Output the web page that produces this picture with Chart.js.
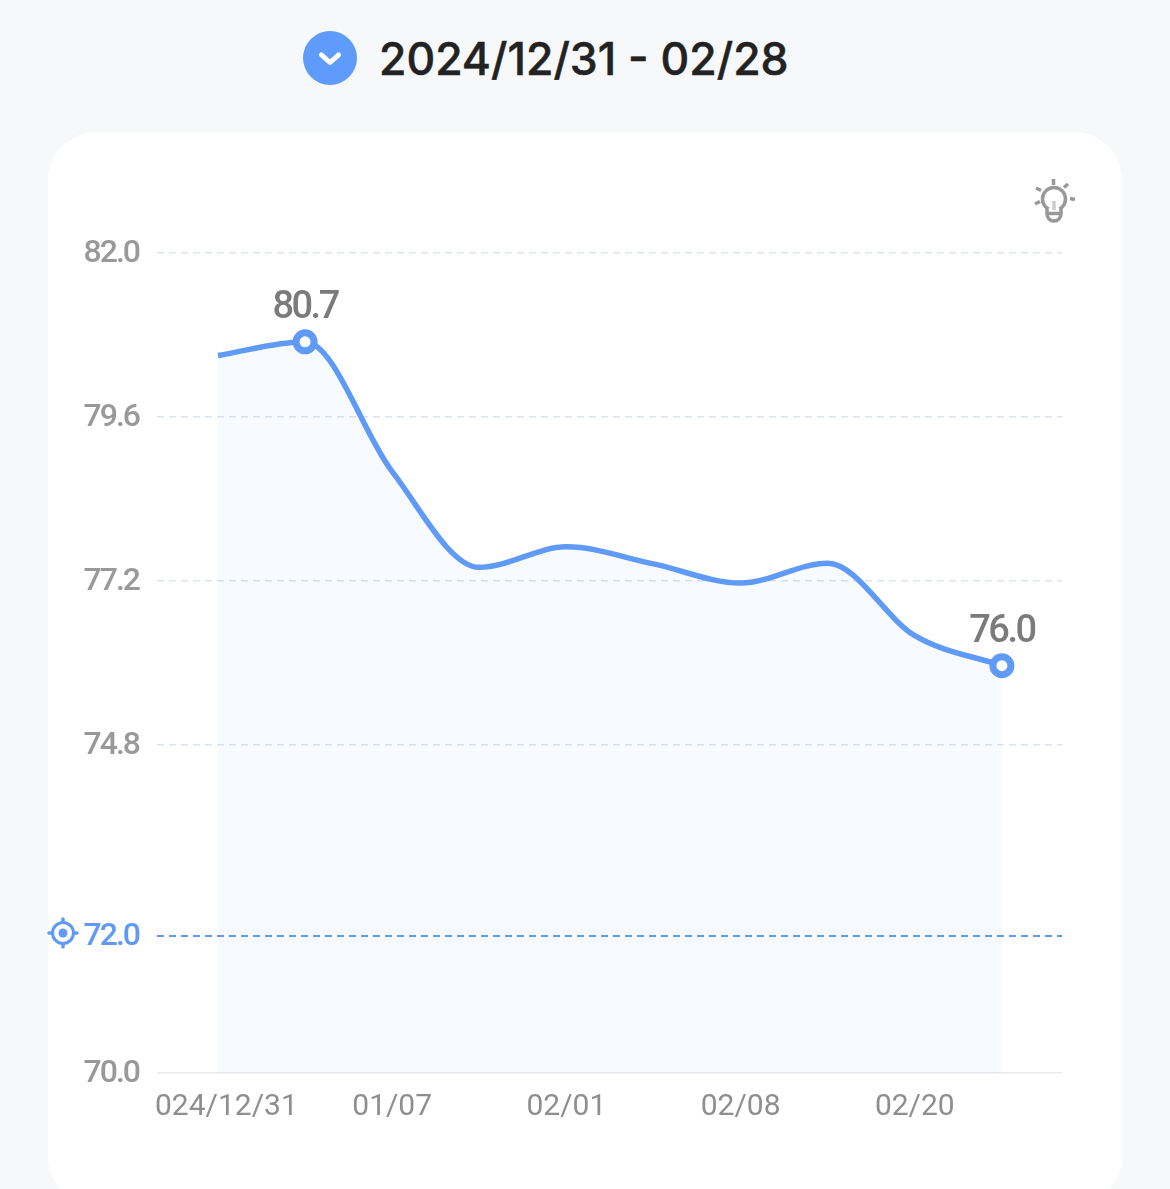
<!DOCTYPE html>
<html><head><meta charset="utf-8">
<style>
html,body{margin:0;padding:0;background:#f7f8fa;width:1170px;height:1189px;overflow:hidden;position:relative}
#card{position:absolute;left:48px;top:132px;width:1074px;height:1073px;background:#fff;border-radius:48px}
#wrap{position:absolute;left:0;top:0;width:1170px;height:1189px}
#title{position:absolute;left:379px;top:32px;font:500 44.5px/54px Inter,sans-serif;-webkit-text-stroke:.5px #222;color:#222;white-space:nowrap}
svg{position:absolute;overflow:visible}
</style></head><body>
<div id="card"></div>
<svg style="left:303px;top:31px" width="54" height="54" viewBox="0 0 54 54"><circle cx="27" cy="27" r="27" fill="#5f9bfa"/><path d="M18.5 24l8.5 7.5 8.500-7.500" fill="none" stroke="#fff" stroke-width="5" stroke-linecap="round" stroke-linejoin="round"/></svg>
<div id="title">2024/12/31 - 02/28</div>
<svg style="left:1030px;top:176px" width="48" height="48" viewBox="0 0 48 48" fill="none" stroke="#999" stroke-width="3.500">
<circle cx="24" cy="23" r="11.500"/>
<path d="M17 32v6a7 7 0 0 0 14 0v-6" fill="#fff"/><path d="M18 37.500h12"/>
<path d="M24 25v9" stroke="#ccc"/>
<path d="M23.500 3v6M38 8l-4 3.500M6 12l5 2.500M5 28l5-2.500M40 22.500l5 1"/></svg>
<svg style="left:48px;top:918px" width="30" height="30" viewBox="0 0 30 30" fill="none" stroke="#5f9bf6" stroke-width="3"><circle cx="15" cy="15" r="10.500"/><circle cx="15" cy="15" r="4.500" fill="#5f9bf6" stroke="none"/><path d="M15 1v3.500M15 25.500v3.500M1 15h3.500M25.500 15h3.500" stroke-linecap="round" stroke-width="3.500"/></svg>
<div id="wrap"><canvas id="c" width="1170" height="1189"></canvas></div>
<script src="https://cdn.jsdelivr.net/npm/chart.js@4"></script>
<script>
const pointIndex = [0,1,2,3,4,5,6,7,8,9];
const weight = [80.5,80.7,78.8,77.4,77.7,77.45,77.17,77.46,76.4,75.96];
const labelledPoints = [1,9];
const xTickPositions = [0,2,4,6,8];
const xTickLabels = ['\u2007024/12/31','01/07','02/01','02/08','02/20'];
const yTicks = [70,72,74.8,77.2,79.6,82];
const targetWeight = 72;
const BLUE = '#5f9bf6';

const pointLabels = {
  id:'pointLabels',
  afterDatasetsDraw(chart){
    const ctx = chart.ctx, meta = chart.getDatasetMeta(0);
    ctx.save();
    ctx.font = '500 38px Roboto, sans-serif';
    ctx.letterSpacing = '-2.5px';
    ctx.fillStyle = '#7b7b7b';
    ctx.textAlign = 'center';
    ctx.textBaseline = 'middle';
    labelledPoints.forEach(i=>{
      const p = meta.data[i];
      ctx.fillText(weight[i].toFixed(1), p.x, p.y-33);
    });
    ctx.restore();
  }
};

new Chart(document.getElementById('c'),{
  type:'line',
  data:{datasets:[{
    data:pointIndex.map((x,i)=>({x,y:weight[i]})),
    borderColor:BLUE,
    borderWidth:5.5,
    cubicInterpolationMode:'monotone',
    fill:'start',
    backgroundColor:'rgba(95,175,255,0.05)',
    pointRadius:c=>labelledPoints.includes(c.dataIndex)?9:0,
    pointBorderWidth:7,
    pointBorderColor:BLUE,
    pointBackgroundColor:'#fff',
    clip:false
  }]},
  options:{
    responsive:false,
    animation:false,
    devicePixelRatio:1,
    layout:{padding:{left:0,right:108,top:253,bottom:0}},
    plugins:{legend:{display:false},tooltip:{enabled:false}},
    scales:{
      x:{
        type:'linear',
        min:-0.7,max:9.69,
        afterBuildTicks:s=>{s.ticks=xTickPositions.map(value=>({value}));},
        afterFit:s=>{s.height=116;},
        grid:{display:false},
        border:{display:false},
        ticks:{
          autoSkip:false,maxRotation:0,padding:8,
          color:'#8e8e8e',
          font:{family:'Roboto',size:30},
          callback:v=>xTickLabels[xTickPositions.indexOf(v)]
        }
      },
      y:{
        type:'linear',
        min:70,max:82,
        afterBuildTicks:s=>{s.ticks=yTicks.map(value=>({value}));},
        afterFit:s=>{s.width=157;},
        afterUpdate:s=>{
          if(s._condensed) return;
          s._condensed=true;
          const draw=s.drawLabels;
          s.drawLabels=function(area){
            const ctx=this.ctx;
            ctx.save();
            ctx.letterSpacing='-2px';
            ctx.translate(0,1);
            draw.call(this,area);
            ctx.restore();
          };
        },
        grid:{
          drawTicks:false,
          lineWidth:c=>c.tick.value===targetWeight?2:1.500,
          color:c=>c.tick.value===targetWeight?BLUE:(c.tick.value===70?'#e9eaee':'#dde3f0')
        },
        border:{display:false,dash:c=>c.tick.value===70?[]:[7,5]},
        ticks:{
          autoSkip:false,padding:18,
          color:c=>c.tick.value===targetWeight?BLUE:'#999',
          font:{family:'Roboto',size:32,weight:'500'},
          callback:v=>v.toFixed(1)
        }
      }
    }
  },
  plugins:[pointLabels]
});
</script>
</body></html>
